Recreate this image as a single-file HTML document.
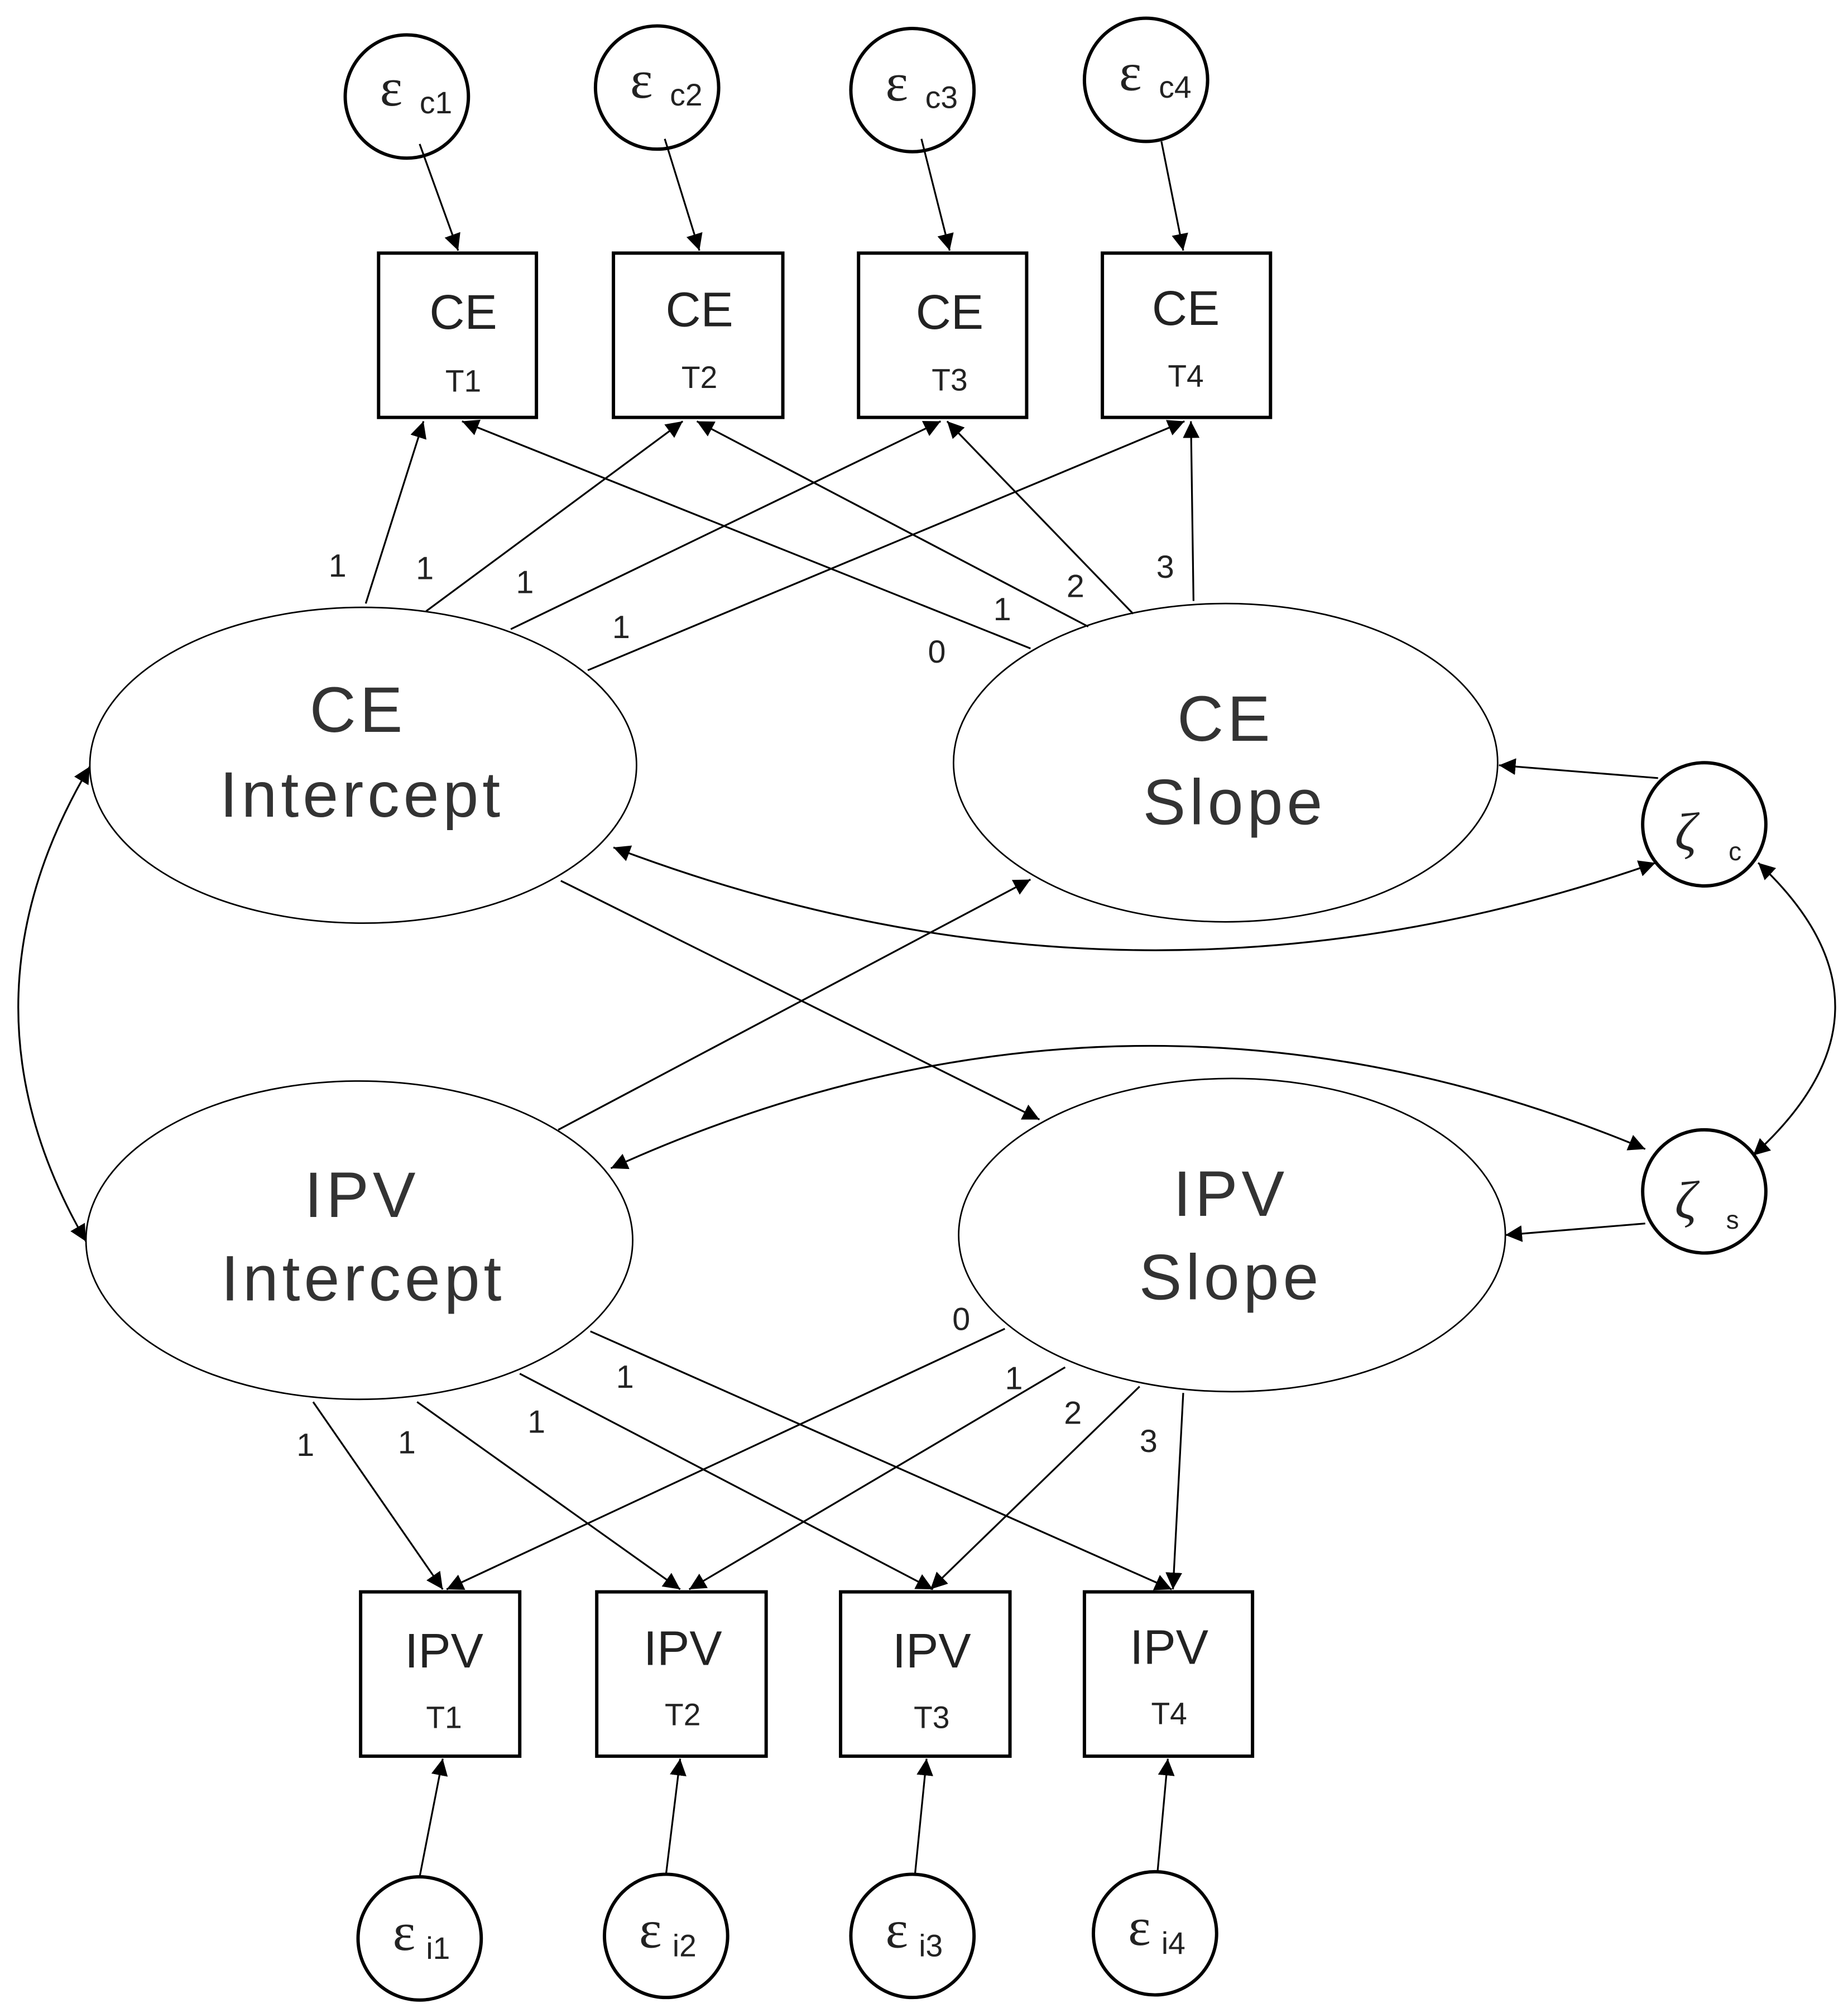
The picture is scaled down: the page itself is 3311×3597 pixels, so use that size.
<!DOCTYPE html>
<html><head><meta charset="utf-8"><style>html,body{margin:0;padding:0;background:#fff}svg{display:block}</style></head>
<body>
<svg width="3311" height="3597" viewBox="0 0 1440 1564" xmlns="http://www.w3.org/2000/svg" font-family="'Liberation Sans','Noto Sans CJK JP',sans-serif">
<defs>
<marker id="a" viewBox="0 0 10 10" refX="10" refY="5" markerWidth="13" markerHeight="13" markerUnits="userSpaceOnUse" orient="auto-start-reverse"><path d="M0,0L10,5L0,10z" fill="#000"/></marker>
</defs>
<rect width="1440" height="1564" fill="#fff"/>
<g fill="none" stroke="#000" stroke-width="2.6">
<circle cx="317" cy="75" r="48"/><circle cx="512" cy="68" r="48"/><circle cx="711" cy="70" r="48"/><circle cx="893" cy="62" r="48"/>
<rect x="295" y="197" width="123" height="128"/><rect x="478" y="197" width="132" height="128"/><rect x="669" y="197" width="131" height="128"/><rect x="859" y="197" width="131" height="128"/>
<circle cx="1328" cy="642" r="48"/><circle cx="1328" cy="928" r="48"/>
<rect x="281" y="1240" width="124" height="128"/><rect x="465" y="1240" width="132" height="128"/><rect x="655" y="1240" width="132" height="128"/><rect x="845" y="1240" width="131" height="128"/>
<circle cx="327" cy="1510" r="48"/><circle cx="519" cy="1508" r="48"/><circle cx="711" cy="1508" r="48"/><circle cx="900" cy="1506" r="48"/>
</g>
<g fill="none" stroke="#000" stroke-width="1.2">
<ellipse cx="283" cy="596" rx="213" ry="123"/><ellipse cx="955" cy="594" rx="212" ry="124"/>
<ellipse cx="280" cy="966" rx="213" ry="124"/><ellipse cx="960" cy="962" rx="213" ry="122"/>
</g>
<g fill="none" stroke="#000" stroke-width="1.4" marker-end="url(#a)">
<line x1="327" y1="112" x2="357" y2="195"/><line x1="518" y1="108" x2="545" y2="195"/><line x1="718" y1="108" x2="740" y2="195"/><line x1="905" y1="110" x2="922" y2="195"/>
<line x1="285" y1="470" x2="330" y2="328"/><line x1="332" y1="476" x2="532" y2="328"/><line x1="398" y1="490" x2="733" y2="328"/><line x1="458" y1="522" x2="923" y2="328"/>
<line x1="803" y1="505" x2="360" y2="328"/><line x1="848" y1="488" x2="543" y2="328"/><line x1="883" y1="478" x2="738" y2="328"/><line x1="930" y1="468" x2="928" y2="328"/>
<line x1="1292" y1="606" x2="1168" y2="596"/><line x1="1282" y1="953" x2="1173" y2="962"/>
<line x1="437" y1="686" x2="810" y2="872"/><line x1="435" y1="880" x2="803" y2="685"/>
<line x1="244" y1="1092" x2="345" y2="1238"/><line x1="325" y1="1092" x2="530" y2="1238"/><line x1="405" y1="1070" x2="727" y2="1238"/><line x1="460" y1="1037" x2="913" y2="1238"/>
<line x1="783" y1="1035" x2="348" y2="1238"/><line x1="830" y1="1065" x2="537" y2="1238"/><line x1="888" y1="1080" x2="725" y2="1238"/><line x1="922" y1="1085" x2="914" y2="1238"/>
<line x1="327" y1="1462" x2="345" y2="1370"/><line x1="519" y1="1460" x2="530" y2="1370"/><line x1="713" y1="1460" x2="722" y2="1370"/><line x1="902" y1="1458" x2="910" y2="1370"/>
<path d="M478,660 Q884,814 1290,672" marker-start="url(#a)"/>
<path d="M476,910 Q880,727 1282,895" marker-start="url(#a)"/>
<path d="M70,597 Q-40,782 67,967" marker-start="url(#a)"/>
<path d="M1370,672 Q1492,786 1366,900" marker-start="url(#a)"/>
</g>
<g fill="#222" text-anchor="middle">
<g font-size="38"><text x="361" y="256">CE</text><text x="545" y="254">CE</text><text x="740" y="256">CE</text><text x="924" y="253">CE</text>
<text x="346" y="1299">IPV</text><text x="532" y="1297">IPV</text><text x="726" y="1299">IPV</text><text x="911" y="1296">IPV</text></g>
<g font-size="24"><text x="361" y="305">T1</text><text x="545" y="302">T2</text><text x="740" y="304">T3</text><text x="924" y="301">T4</text>
<text x="346" y="1346">T1</text><text x="532" y="1344">T2</text><text x="726" y="1346">T3</text><text x="911" y="1343">T4</text></g>
<g font-size="50" fill="#333" letter-spacing="3"><text x="279" y="570">CE</text><text x="282" y="636">Intercept</text><text x="955" y="577">CE</text><text x="962" y="642">Slope</text>
<text x="282" y="948">IPV</text><text x="283" y="1013">Intercept</text><text x="959" y="947">IPV</text><text x="959" y="1012">Slope</text></g>
<g font-size="25"><text x="263" y="449">1</text><text x="331" y="451">1</text><text x="409" y="462">1</text><text x="484" y="497">1</text><text x="730" y="516">0</text><text x="781" y="483">1</text><text x="838" y="465">2</text><text x="908" y="450">3</text>
<text x="238" y="1134">1</text><text x="317" y="1132">1</text><text x="418" y="1116">1</text><text x="487" y="1081">1</text><text x="749" y="1036">0</text><text x="790" y="1082">1</text><text x="836" y="1109">2</text><text x="895" y="1131">3</text></g>
</g>
<g fill="#222" font-size="42" font-family="'Liberation Serif',serif">
<text x="296" y="82">ε</text><text x="491" y="76">ε</text><text x="690" y="78">ε</text><text x="872" y="70">ε</text>
<text x="306" y="1519">ε</text><text x="498" y="1517">ε</text><text x="690" y="1517">ε</text><text x="879" y="1515">ε</text>
<text x="1305" y="662" font-style="italic">ζ</text><text x="1305" y="949" font-style="italic">ζ</text>
</g>
<g fill="#222" font-size="24">
<text x="327" y="88">c1</text><text x="522" y="82">c2</text><text x="721" y="84">c3</text><text x="903" y="76">c4</text>
<text x="332" y="1526">i1</text><text x="524" y="1524">i2</text><text x="716" y="1524">i3</text><text x="905" y="1522">i4</text>
<text x="1347" y="670" font-size="20">c</text><text x="1345" y="957" font-size="20">s</text>
</g>
</svg>
</body></html>
